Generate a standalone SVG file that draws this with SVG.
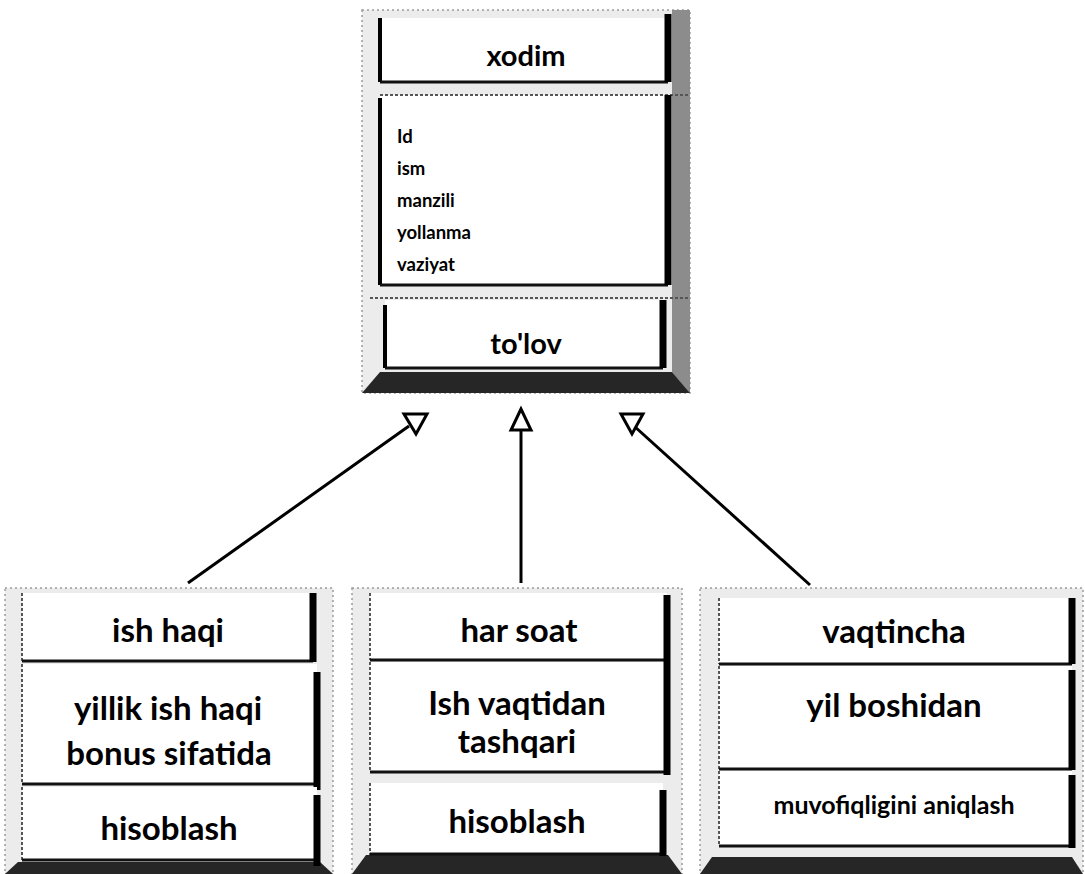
<svg xmlns="http://www.w3.org/2000/svg" width="1085" height="874" viewBox="0 0 1085 874">
<style>
.bg{fill:#ffffff}
.frame{fill:#ececec;stroke:#9a9a9a;stroke-width:1.5;stroke-dasharray:2 3}
.bevR{fill:#8c8c8c}
.bevB{fill:#262626}
.comp{fill:#ffffff}
.lt{stroke:#555;stroke-width:2;fill:none;stroke-dasharray:3 2}
.lb{stroke:#111;stroke-width:3;fill:none}
.lr{stroke:#000;stroke-width:7;fill:none}
.ll{stroke:#000;stroke-width:4;fill:none}
text{font-family:Lato,"Open Sans","Liberation Sans",sans-serif;font-weight:bold;fill:#000}
.h{font-size:29px;text-anchor:middle}
.a{font-size:18.5px}
.b{font-size:33px;text-anchor:middle}
.s{font-size:25px;text-anchor:middle}
.con{stroke:#000;stroke-width:3;fill:none}
.tri{stroke:#000;stroke-width:3;fill:#fff;stroke-linejoin:miter}
</style>
<rect class="bg" x="0" y="0" width="1085" height="874"/>

<g id="xodim">
  <rect class="frame" x="362" y="10" width="328" height="383"/>
  <polygon class="bevR" points="672,10 690,10 690,393 672,372"/>
  <polygon class="bevB" points="362,393 690,393 672,372 380,372"/>
  <rect class="comp" x="380" y="18" width="288" height="64"/>
  <path class="ll" d="M380,18 V82"/>
  <path class="lb" d="M380,82 H668"/>
  <path class="lr" d="M668,14 V82"/>
  <rect class="comp" x="380" y="95" width="288" height="190"/>
  <path class="lt" d="M380,95 H688"/>
  <path class="ll" d="M380,98 V285"/>
  <path class="lb" d="M380,285 H668"/>
  <path class="lr" d="M668,95 V285"/>
  <rect class="comp" x="385" y="300" width="278" height="68"/>
  <path class="lt" d="M370,298 H688"/>
  <path class="ll" d="M385,305 V368"/>
  <path class="lb" d="M385,368 H663"/>
  <path class="lr" d="M663,300 V368"/>
  <text class="h" x="526" y="66">xodim</text>
  <text class="a" x="397" y="143">Id</text>
  <text class="a" x="397" y="175">ism</text>
  <text class="a" x="397" y="207">manzili</text>
  <text class="a" x="397" y="239">yollanma</text>
  <text class="a" x="397" y="271">vaziyat</text>
  <text class="h" x="526" y="354">to'lov</text>
</g>

<g id="ish-haqi">
  <rect class="frame" x="5" y="588" width="328" height="286"/>
  <polygon class="bevB" points="5,874 333,874 320,862 18,862"/>
  <rect class="comp" x="22" y="593" width="291" height="69"/>
  <path class="lt" d="M22,593 V662"/>
  <path class="lb" d="M22,661 H313"/>
  <path class="lr" d="M313,593 V662"/>
  <rect class="comp" x="22" y="664" width="295" height="120"/>
  <path class="lt" d="M22,664 V784"/>
  <path class="lb" d="M22,784 H317"/>
  <path class="lr" d="M317,672 V790"/>
  <rect class="comp" x="22" y="787" width="295" height="73"/>
  <path class="lt" d="M22,787 V860"/>
  <path class="lb" d="M22,860 H317"/>
  <path class="lr" d="M317,795 V866"/>
  <text class="b" x="168" y="642">ish haqi</text>
  <text class="b" x="168" y="720">yillik ish haqi</text>
  <text class="b" x="169" y="765">bonus sifatida</text>
  <text class="b" x="169" y="840">hisoblash</text>
</g>

<g id="har-soat">
  <rect class="frame" x="352" y="588" width="330" height="286"/>
  <polygon class="bevB" points="352,874 682,874 668,855 366,855"/>
  <rect class="comp" x="370" y="593" width="297" height="67"/>
  <path class="lt" d="M370,593 V660"/>
  <path class="lb" d="M370,660 H667"/>
  <path class="lr" d="M667,595 V662"/>
  <rect class="comp" x="370" y="662" width="297" height="110"/>
  <path class="lt" d="M370,662 V772"/>
  <path class="lb" d="M370,772 H667"/>
  <path class="lr" d="M667,662 V775"/>
  <rect class="comp" x="370" y="783" width="293" height="72"/>
  <path class="lt" d="M370,783 V855"/>
  <path class="lb" d="M370,854 H663"/>
  <path class="lr" d="M663,790 V856"/>
  <text class="b" x="519" y="642">har soat</text>
  <text class="b" x="517" y="715">Ish vaqtidan</text>
  <text class="b" x="517" y="753">tashqari</text>
  <text class="b" x="517" y="833">hisoblash</text>
</g>

<g id="vaqtincha">
  <rect class="frame" x="700" y="588" width="383" height="286"/>
  <polygon class="bevB" points="700,874 1083,874 1072,857 712,857"/>
  <rect class="comp" x="719" y="598" width="353" height="66"/>
  <path class="lt" d="M719,598 V664"/>
  <path class="lb" d="M719,664 H1072"/>
  <path class="lr" d="M1072,598 V664"/>
  <rect class="comp" x="719" y="666" width="353" height="103"/>
  <path class="lt" d="M719,666 V769"/>
  <path class="lb" d="M719,769 H1072"/>
  <path class="lr" d="M1072,670 V770"/>
  <rect class="comp" x="719" y="771" width="353" height="75"/>
  <path class="lt" d="M719,771 V846"/>
  <path class="lb" d="M719,846 H1072"/>
  <path class="lr" d="M1072,775 V848"/>
  <text class="b" x="894" y="643">vaqtincha</text>
  <text class="b" x="894" y="717">yil boshidan</text>
  <text class="s" x="894" y="814">muvofiqligini aniqlash</text>
</g>

<g id="connectors">
  <path class="con" d="M188,583 L409,426"/>
  <polygon class="tri" points="404,414 427,414 416,434"/>
  <path class="con" d="M521,583 L521,431"/>
  <polygon class="tri" points="521,409 511,430 531,430"/>
  <path class="con" d="M810,585 L634,426"/>
  <polygon class="tri" points="621,414 643,414 632,434"/>
</g>
</svg>
